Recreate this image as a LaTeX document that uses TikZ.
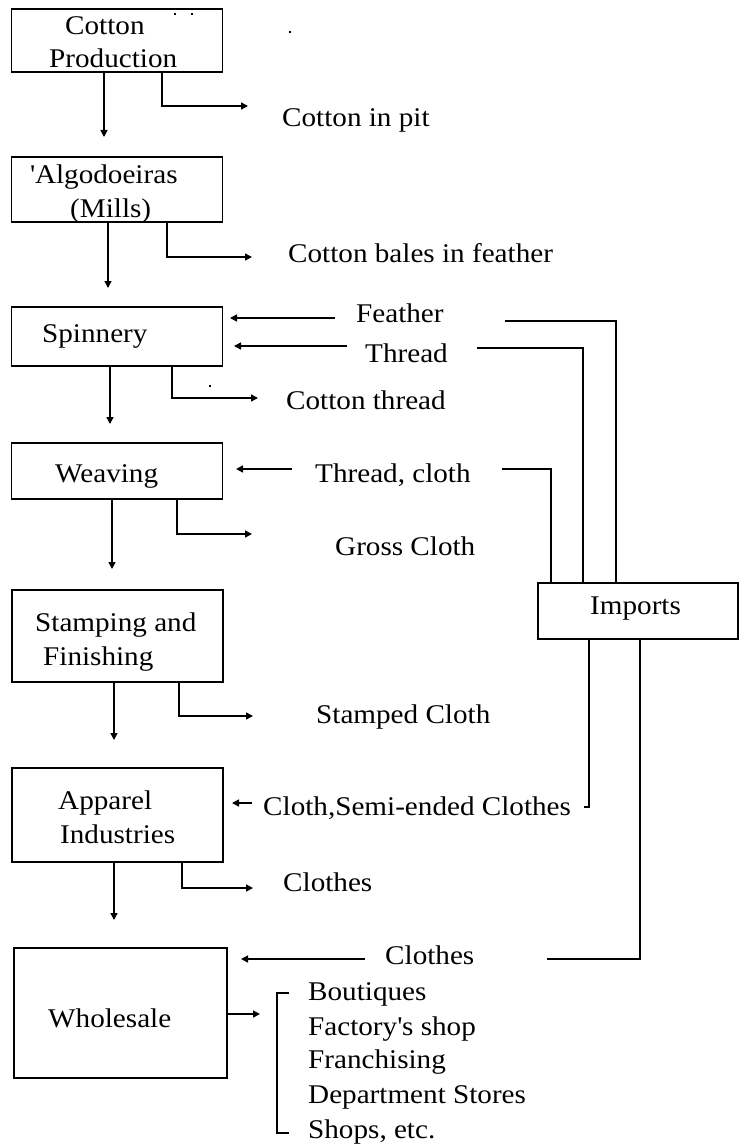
\documentclass[tikz,border=0pt]{standalone}
\usepackage{fontspec}
\setmainfont{Liberation Serif}[FakeStretch=1.08]
\usetikzlibrary{arrows.meta}
\begin{document}
\begin{tikzpicture}[x=1pt,y=-1pt,
  box/.style={draw,line width=1.5pt,rectangle,inner sep=0pt},
  lbl/.style={anchor=base west,inner sep=0pt,font=\fontsize{27}{33}\selectfont},
  ln/.style={line width=1.5pt},
  arr/.style={line width=1.5pt,-{Triangle[length=7pt,width=7pt]}},
  dot/.style={fill=black,inner sep=0pt,minimum size=2pt,rectangle}]
\useasboundingbox (0,0) rectangle (739,1145);

% boxes
\node[box,minimum width=211pt,minimum height=63pt] (cp) at (117,40.5) {};
\node[box,minimum width=211pt,minimum height=65pt] (alg) at (117,189.5) {};
\node[box,minimum width=211pt,minimum height=59pt] (spin) at (117,336.5) {};
\node[box,minimum width=211pt,minimum height=56pt] (weav) at (117,471) {};
\node[box,minimum width=211pt,minimum height=92pt] (stamp) at (117.5,636) {};
\node[box,minimum width=211pt,minimum height=94pt] (app) at (117.5,815) {};
\node[box,minimum width=213pt,minimum height=130pt] (whole) at (120.5,1013) {};
\node[box,minimum width=200pt,minimum height=56pt] (imp) at (638,611) {};

% box texts
\node[lbl] (tcp1) at (65,35) {Cotton};
\node[lbl] (tcp2) at (49,68) {Production};
\node[lbl] (talg1) at (30,183) {\textquotesingle Algodoeiras};
\node[lbl] (talg2) at (70,217) {(Mills)};
\node[lbl] (tspin) at (42,342) {Spinnery};
\node[lbl] (tweav) at (55,482) {Weaving};
\node[lbl] (tst1) at (35,631) {Stamping and};
\node[lbl] (tst2) at (43,665) {Finishing};
\node[lbl] (tap1) at (58,809) {Apparel};
\node[lbl] (tap2) at (60,843) {Industries};
\node[lbl] (twh) at (48,1027) {Wholesale};
\node[lbl] (timp) at (590,614) {Imports};

% side labels
\node[lbl] (o1) at (282,127) {Cotton in pit};
\node[lbl] (o2) at (288,262) {Cotton bales in feather};
\node[lbl] (o3) at (286,409) {Cotton thread};
\node[lbl] (o4) at (335,555) {Gross Cloth};
\node[lbl] (o5) at (316,723) {Stamped Cloth};
\node[lbl] (o6) at (283,891) {Clothes};
\node[lbl] (i1) at (356,322) {Feather};
\node[lbl] (i2) at (365,362) {Thread};
\node[lbl] (i3) at (315,482) {Thread, cloth};
\node[lbl] (i4) at (263,815) {Cloth,Semi-ended Clothes};
\node[lbl] (i5) at (385,964) {Clothes};

% retail list
\node[lbl] (r1) at (308,1000) {Boutiques};
\node[lbl] (r2) at (308,1035) {Factory\textquotesingle s shop};
\node[lbl] (r3) at (308,1068) {Franchising};
\node[lbl] (r4) at (308,1103) {Department Stores};
\node[lbl] (r5) at (308,1138) {Shops, etc.};

% main flow
\coordinate (d1) at (104,137);
\coordinate (d2) at (108,288);
\coordinate (d3) at (110,424);
\coordinate (d4) at (112,569);
\coordinate (d5) at (114,740);
\coordinate (d6) at (114,920);
\draw[arr] (d1 |- cp.south) -- (d1);
\draw[arr] (d2 |- alg.south) -- (d2);
\draw[arr] (d3 |- spin.south) -- (d3);
\draw[arr] (d4 |- weav.south) -- (d4);
\draw[arr] (d5 |- stamp.south) -- (d5);
\draw[arr] (d6 |- app.south) -- (d6);

% outputs
\coordinate (s1) at (162,106);
\coordinate (s2) at (167,257);
\coordinate (s3) at (172,398);
\coordinate (s4) at (177,534);
\coordinate (s5) at (179,716);
\coordinate (s6) at (182,888);
\draw[arr] (s1 |- cp.south) -- (s1) -- (248,106);
\draw[arr] (s2 |- alg.south) -- (s2) -- (252,257);
\draw[arr] (s3 |- spin.south) -- (s3) -- (258,398);
\draw[arr] (s4 |- weav.south) -- (s4) -- (252,534);
\draw[arr] (s5 |- stamp.south) -- (s5) -- (253,716);
\draw[arr] (s6 |- app.south) -- (s6) -- (253,888);
\draw[arr] (whole.east |- 0,1014) -- (260,1014);

% bracket
\draw[ln] (289,993) -- (277,993) -- (277,1133) -- (289,1133);

% inputs from imports
\draw[arr] (335,318) -- (230,318);
\draw[arr] (347,346) -- (234,346);
\draw[arr] (292,469) -- (236,469);
\draw[arr] (252,803) -- (232,803);
\draw[arr] (365,959) -- (241,959);
\draw[ln] (616,0 |- imp.north) -- (616,321) -- (505,321);
\draw[ln] (583,0 |- imp.north) -- (583,348) -- (477,348);
\draw[ln] (551,0 |- imp.north) -- (551,469) -- (502,469);
\draw[ln] (589,0 |- imp.south) -- (589,807) -- (584,807);
\draw[ln] (640,0 |- imp.south) -- (640,959) -- (547,959);

% stray marks
\node[dot] (m1) at (175,14) {};
\node[dot] (m2) at (192,14) {};
\node[dot] (m3) at (290,32) {};
\node[dot] (m4) at (210,386) {};
\end{tikzpicture}
\end{document}
